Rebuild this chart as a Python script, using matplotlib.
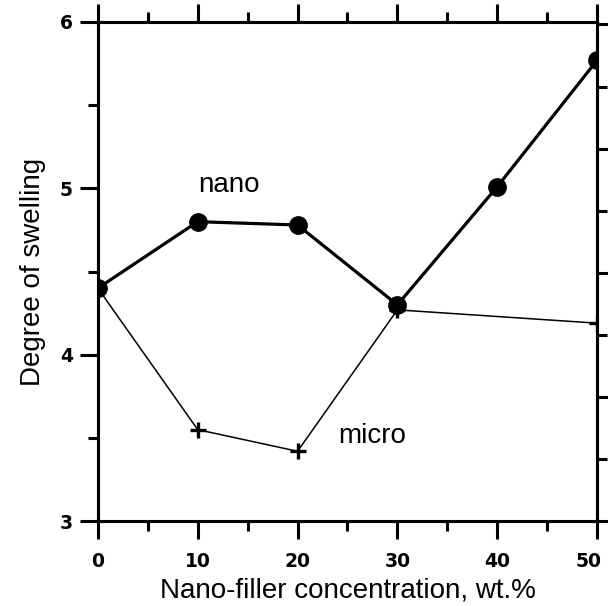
import matplotlib
matplotlib.use("Agg")
import matplotlib.pyplot as plt
import matplotlib.transforms as mtransforms
from matplotlib.ticker import MultipleLocator

plt.rcParams['font.family'] = ['Liberation Sans', 'DejaVu Sans']

nano_x = [0, 10, 20, 30, 40, 50]
nano_y = [4.40, 4.80, 4.78, 4.30, 5.01, 5.77]
micro_x = [0, 10, 20, 30, 50]
micro_y = [4.40, 3.55, 3.42, 4.27, 4.19]
xticks = [0, 10, 20, 30, 40, 50]
yticks = [3, 4, 5, 6]

fig = plt.figure(figsize=(6.08, 6.06), dpi=100)
ax = fig.add_axes([0.161, 0.140, 0.821, 0.8237])

ax.plot(micro_x, micro_y, color='black', lw=1.1, marker='+', ms=12, mew=2.4, zorder=2)
ax.plot(nano_x, nano_y, color='black', lw=2.3, marker='o', ms=12.5, zorder=3)

ax.set_xlim(0, 50)
ax.set_ylim(3, 6)
ax.set_xticks(xticks)
ax.set_yticks(yticks)
ax.xaxis.set_minor_locator(MultipleLocator(5))
ax.yaxis.set_minor_locator(MultipleLocator(0.5))

for s in ax.spines.values():
    s.set_linewidth(2.2)

ax2 = ax.twinx()
ax2.set_ylim(0, 4.02)
ax2.yaxis.set_major_locator(MultipleLocator(1))
ax2.yaxis.set_minor_locator(MultipleLocator(0.5))
ax2.tick_params(which='major', direction='out', length=13, width=2.2, labelright=False)
ax2.tick_params(which='minor', direction='out', length=7, width=2.2)
for s in ax2.spines.values():
    s.set_linewidth(2.2)

ax.tick_params(which='major', direction='out', length=13, width=2.2,
               top=True, right=False, labelsize=13.5)
ax.tick_params(axis='x', which='major', pad=9)
ax.tick_params(axis='y', which='major', pad=5)
ax.tick_params(which='minor', direction='out', length=7, width=2.2,
               top=True, right=False)
for lab in ax.get_xticklabels() + ax.get_yticklabels():
    lab.set_fontweight('bold')
    lab.set_family(['DejaVu Sans'])

last = ax.get_xticklabels()[-1]
last.set_transform(last.get_transform() +
                   mtransforms.ScaledTranslation(-6 / 72, 0, fig.dpi_scale_trans))

ax.set_xlabel('Nano-filler concentration, wt.%', fontsize=20, labelpad=5)
ax.set_ylabel('Degree of swelling', fontsize=20, labelpad=10)

ax.text(13.1, 5.02, 'nano', fontsize=20, ha='center', va='center')
ax.text(27.5, 3.51, 'micro', fontsize=20, ha='center', va='center')

fig.savefig('out.png', dpi=100)
